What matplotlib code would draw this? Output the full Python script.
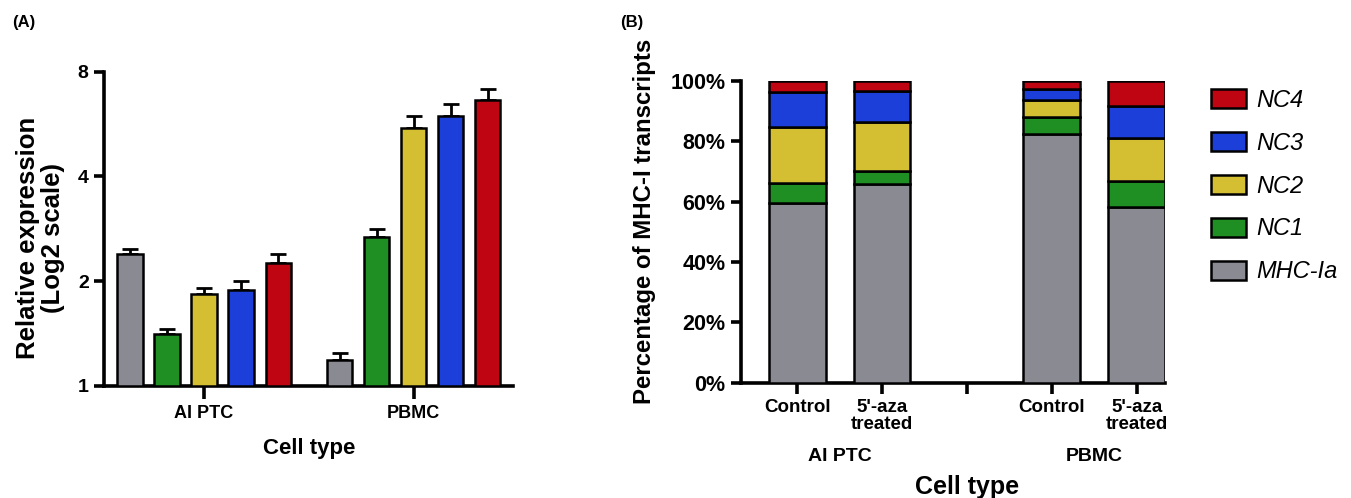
import matplotlib
matplotlib.use("Agg")
import matplotlib.pyplot as plt
import numpy as np
from matplotlib.patches import Patch
from matplotlib.ticker import FixedLocator, FixedFormatter, NullLocator

plt.rcParams['font.family'] = ['Liberation Sans', 'DejaVu Sans']
plt.rcParams['font.weight'] = 'bold'

# ---- data ----
genes = ["MHC-Ia", "NC1", "NC2", "NC3", "NC4"]
colors = ["#8a8a93", "#1f8f24", "#d4bf32", "#1b3fd8", "#bf0412"]

# panel A : relative expression (log2 scale), mean and top of error bar
cells_a = ["AI PTC", "PBMC"]
ptc_mean = [2.39, 1.405, 1.83, 1.88, 2.26]
ptc_top = [2.47, 1.46, 1.905, 2.0, 2.39]
pbmc_mean = [1.185, 2.68, 5.50, 5.97, 6.63]
pbmc_top = [1.24, 2.82, 5.97, 6.44, 7.12]

# panel B : percentage of MHC-I transcripts
conds = ["Control", "5'-aza\ntreated", "", "Control", "5'-aza\ntreated"]
groups_b = ["AI PTC", "PBMC"]
pct = {
    "MHC-Ia": [59.4, 65.8, 82.3, 58.3],
    "NC1":    [6.8, 4.4, 5.8, 8.5],
    "NC2":    [18.6, 16.2, 5.5, 14.1],
    "NC3":    [11.6, 10.3, 3.7, 10.8],
    "NC4":    [3.6, 3.3, 2.7, 8.3],
}

fig = plt.figure(figsize=(13.51, 4.98), dpi=100)
lw_ax = 2.6

# ---------------- panel A ----------------
axA = fig.add_axes([0.077, 0.2255, 0.303, 0.6305])
xa = np.arange(5)
xb = np.arange(5) + 5.66
w = 0.68
for i in range(5):
    for xs, m, t in [(xa, ptc_mean, ptc_top), (xb, pbmc_mean, pbmc_top)]:
        axA.bar(xs[i], m[i] - 1, bottom=1, width=w, color=colors[i],
                edgecolor='black', linewidth=1.8, zorder=3)
        axA.errorbar(xs[i], m[i], yerr=[[0], [t[i] - m[i]]], fmt='none',
                     ecolor='black', elinewidth=2, capsize=5.5, capthick=2, zorder=2)
axA.set_yscale('log', base=2)
axA.set_ylim(1, 8)
axA.set_xlim(-0.7, 10.35)
axA.yaxis.set_major_locator(FixedLocator([1, 2, 4, 8]))
axA.yaxis.set_major_formatter(FixedFormatter(["1", "2", "4", "8"]))
axA.yaxis.set_minor_locator(NullLocator())
axA.set_xticks([2, 7.66])
axA.set_xticklabels(cells_a, fontsize=13, fontweight='bold')
axA.set_ylabel("Relative expression\n(Log2 scale)", fontsize=18.5, fontweight='bold',
               linespacing=1.05)
axA.yaxis.set_label_coords(-0.095, 0.47)
axA.set_xlabel("Cell type", fontsize=16, fontweight='bold')
axA.xaxis.set_label_coords(0.5, -0.165)

# ---------------- panel B ----------------
axB = fig.add_axes([0.5485, 0.2315, 0.314, 0.6064])
xpos = np.array([0, 1, 3, 4])
bottom = np.zeros(4)
for g, c in zip(genes, colors):
    vals = np.array(pct[g])
    axB.bar(xpos, vals, bottom=bottom, width=0.67, color=c, edgecolor='black',
            linewidth=1.8, zorder=3)
    bottom += vals
axB.set_ylim(0, 100)
axB.set_xlim(-0.66, 4.335)
axB.set_yticks([0, 20, 40, 60, 80, 100])
axB.set_yticklabels(["0%", "20%", "40%", "60%", "80%", "100%"])
axB.set_xticks([0, 1, 2, 3, 4])
axB.set_xticklabels(conds, fontsize=13.5, fontweight='bold', linespacing=1.0)
for gx, gl in zip([0.5, 3.5], groups_b):
    axB.text(gx, -0.215, gl, transform=axB.get_xaxis_transform(), ha='center',
             va='top', fontsize=14, fontweight='bold')
axB.set_ylabel("Percentage of MHC-I transcripts", fontsize=17.3, fontweight='bold')
axB.yaxis.set_label_coords(-0.2, 0.535)
axB.set_xlabel("Cell type", fontsize=18, fontweight='bold')
axB.xaxis.set_label_coords(0.532, -0.305)

handles = [Patch(facecolor=c, edgecolor='black', linewidth=1.8, label=g)
           for g, c in zip(genes, colors)][::-1]
fig.legend(handles=handles, loc='upper left', bbox_to_anchor=(0.881, 0.864),
           frameon=False, prop={'style': 'italic', 'weight': 'normal', 'size': 17},
           handlelength=1.45, handleheight=0.85, labelspacing=0.84, handletextpad=0.45)

for ax in (axA, axB):
    ax.spines['top'].set_visible(False)
    ax.spines['right'].set_visible(False)
    ax.spines['left'].set_linewidth(lw_ax)
    ax.spines['bottom'].set_linewidth(lw_ax)
    ax.tick_params(width=lw_ax, length=7.5, direction='out')
    for lab in ax.get_yticklabels():
        lab.set_fontweight('bold')
axA.tick_params(axis='y', labelsize=14)
axA.tick_params(axis='x', length=9, pad=5)
axB.tick_params(axis='y', labelsize=15.5)
axB.tick_params(axis='x', length=8)

fig.text(0.009, 0.955, "(A)", fontsize=12, fontweight='bold', va='center')
fig.text(0.459, 0.955, "(B)", fontsize=12, fontweight='bold', va='center')

fig.savefig("out.png", dpi=100)
